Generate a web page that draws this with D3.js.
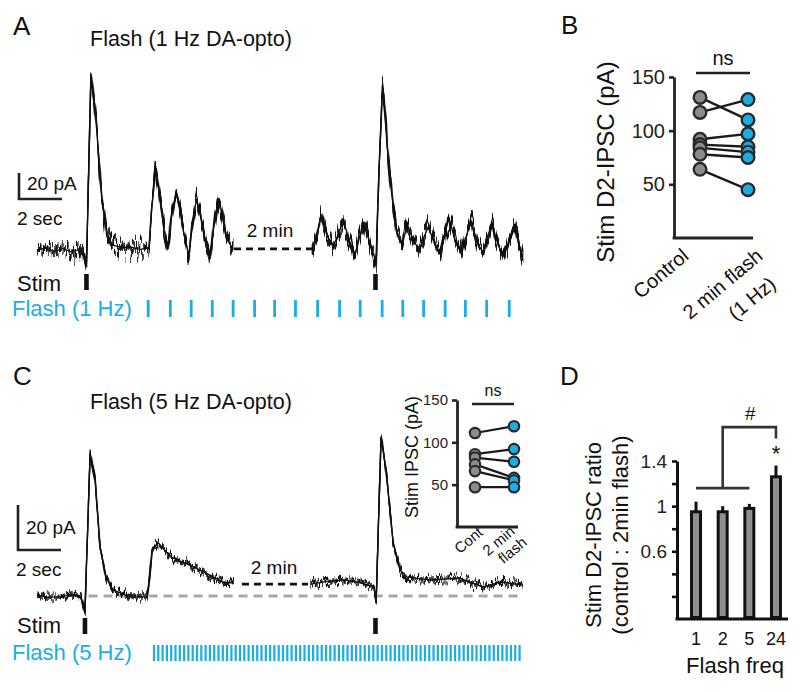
<!DOCTYPE html>
<html><head><meta charset="utf-8">
<script src="https://cdn.jsdelivr.net/npm/d3@7"></script>
<style>body{margin:0;background:#fff} svg text{font-family:"Liberation Sans",Arial,Helvetica,sans-serif}</style>
</head><body><svg id="fig" width="800" height="692"></svg>
<script>
// ---------------- DATA ----------------
// Panel A: trace segments [time s, current pA]
const traceA1 = [[0,0],[0.4,1.5],[0.8,-1],[1.2,1],[1.6,-1.5],[2.0,0.5],[2.14,-2.3],[2.30,-13],[2.40,60],[2.51,135],[2.60,125],[2.79,90],[3.02,38],[3.26,13],[3.49,4],[3.9,2],[4.33,2.3],[4.8,0.5],[5.21,1.5],[5.35,35],[5.52,63],[5.62,52],[5.75,36],[5.91,15],[6.09,1.5],[6.25,25],[6.47,44],[6.6,35],[6.8,15],[7.07,-5],[7.2,20],[7.42,39],[7.55,30],[7.8,10],[8.05,-6],[8.2,15],[8.44,39],[8.58,30],[8.8,10],[9.12,0]];
const traceA2 = [[12.79,0],[13.0,12],[13.21,26],[13.35,18],[13.49,11.5],[13.77,2.3],[14.0,12],[14.23,22],[14.37,16],[14.51,7.7],[14.79,-4],[15.0,10],[15.21,21.5],[15.35,14],[15.49,4],[15.67,-4],[15.77,-10],[15.9,60],[16.05,121],[16.14,115],[16.23,92],[16.42,54],[16.70,15],[16.98,4],[17.1,12],[17.21,20],[17.35,14],[17.49,7.7],[17.77,0],[18.0,10],[18.19,17.7],[18.33,12],[18.47,5.4],[18.74,-2.3],[18.95,12],[19.16,24.6],[19.3,16],[19.44,7.7],[19.72,-2.3],[19.95,10],[20.19,22.3],[20.33,14],[20.47,6],[20.74,-2.3],[20.95,10],[21.16,20.8],[21.3,12],[21.44,4],[21.72,-5.4],[21.95,8],[22.19,19.2],[22.3,12],[22.42,4],[22.6,-5.4]];
const gapA = [[9.16,0.8],[12.79,0.8]];
const stimA = [2.30, 15.74];
const flashA = [5.17,6.20,7.17,8.15,9.12,10.12,11.05,12.02,13.05,14.07,15.03,16.05,17.01,17.98,18.98,19.92,20.91,21.96];

// Panel C: trace segments [time s, current pA]
const traceC1 = [[0,0.4],[0.5,-0.5],[1.07,-0.4],[1.6,0.5],[2.05,-0.4],[2.23,-7.1],[2.47,63.6],[2.70,51.6],[2.93,21.8],[3.21,8.4],[3.53,2.7],[4.33,-0.4],[5.12,-0.4],[5.21,5.8],[5.35,20.4],[5.63,23.6],[6.23,17.3],[7.07,13.8],[7.86,10.2],[8.65,6.2],[9.16,5.8]];
const traceC2 = [[12.70,5.3],[13.5,6.5],[14.33,7.1],[15.0,6],[15.67,4],[15.77,-2.7],[16.0,70.7],[16.23,56],[16.56,23.6],[16.88,11.6],[17.21,8.4],[18.33,7.1],[19.63,8],[20.74,4],[21.53,6.2],[22.6,4.9]];
const gapC = [[9.53,5.3],[12.6,5.3]];
const stimC = [2.23, 15.74];
const flashC = {start: 5.44, end: 22.56, rateHz: 5};

// Panel B
const groupsB = ["Control", "2 min flash"];
const controlB = [131, 117, 92, 87, 84, 78, 64];
const flashB   = [110, 129, 97, 85, 80, 75, 45];
const ticksB = [50, 100, 150];

// Panel C inset
const controlI = [111, 86, 82, 74, 66, 47];
const flashI   = [119, 92, 77, 58, 55, 47];
const ticksI = [50, 100, 150];

// Panel D
const freqD = ["1", "2", "5", "24"];
const meanD = [0.95, 0.95, 0.98, 1.26];
const semD  = [0.09, 0.05, 0.04, 0.10];
const ticksD = [0.2, 0.4, 0.6, 0.8, 1.0, 1.2, 1.4];
const tickLabelsD = {"0.6":"0.6", "1":"1", "1.4":"1.4"};

// ---------------- DRAW ----------------
const BLUE = "#1aaee5", INK = "#111", DARK = "#222";
const svg = d3.select("#fig");
const defs = svg.append("defs");
// visual recording-noise texture for the traces (style only)
function noiseFilter(id, scale, fx, seed, dil){
  const f = defs.append("filter").attr("id", id).attr("x", -0.02).attr("y", -0.3).attr("width", 1.04).attr("height", 1.6)
    .attr("color-interpolation-filters", "sRGB");
  f.append("feTurbulence").attr("type", "fractalNoise").attr("baseFrequency", `${fx} 0.02`).attr("numOctaves", 2).attr("seed", seed).attr("result", "t");
  f.append("feColorMatrix").attr("in", "t").attr("type", "matrix")
    .attr("values", "0 0 0 0 0.5  0 1 0 0 0  0 0 0 0 0  0 0 0 0 1").attr("result", "m");
  f.append("feDisplacementMap").attr("in", "SourceGraphic").attr("in2", "m").attr("scale", scale)
    .attr("xChannelSelector", "R").attr("yChannelSelector", "G").attr("result", "d");
  f.append("feMorphology").attr("in", "d").attr("operator", "dilate").attr("radius", `0 ${dil}`);
}
const noiseA = [["nA1", 40, 0.4, 3, 2], ["nA2", 36, 0.55, 11, 2]];
const noiseC = [["nC1", 20, 0.4, 5, 1], ["nC2", 18, 0.55, 17, 1]];
noiseA.concat(noiseC).forEach(n => noiseFilter(...n));

function text(x, y, s, size, opt = {}) {
  const t = svg.append("text").attr("x", x).attr("y", y).text(s).attr("font-size", size)
    .attr("fill", opt.fill || INK).attr("text-anchor", opt.anchor || "start");
  if (opt.rotate !== undefined) t.attr("transform", `rotate(${opt.rotate},${x},${y})`);
  if (opt.dy) t.attr("dy", opt.dy);
  return t;
}

// shared time scale for traces
const xT = d3.scaleLinear().domain([0, 22.6]).range([37, 523]);

function tracePanel(cfg) {
  const y = cfg.y;
  const line = d3.line().x(d => xT(d[0])).y(d => y(d[1]));
  cfg.segments.forEach(seg => {
    svg.append("path").attr("d", line(seg)).attr("fill", "none").attr("stroke", INK)
      .attr("stroke-width", 1.4).attr("stroke-linejoin", "round");
    cfg.filters.forEach(f => {
      svg.append("path").attr("d", line(seg)).attr("fill", "none").attr("stroke", INK)
        .attr("stroke-width", 1.2).attr("stroke-linejoin", "round").attr("filter", `url(#${f[0]})`);
    });
  });
  svg.append("path").attr("d", line(cfg.gap)).attr("fill", "none").attr("stroke", INK)
    .attr("stroke-width", 2.8).attr("stroke-dasharray", "7,5");
  // stim marks
  svg.selectAll(null).data(cfg.stim).enter().append("rect")
    .attr("x", d => xT(d) - 2.3).attr("y", cfg.stimY).attr("width", 4.6).attr("height", 16).attr("fill", INK);
  // scale bar
  const sx = cfg.barX, sy = cfg.barY;
  const h = y(0) - y(20), w = xT(2) - xT(0);
  svg.append("path").attr("d", `M${sx},${sy - h}V${sy}H${sx + w}`).attr("fill", "none")
    .attr("stroke", "#222").attr("stroke-width", 2.6);
}

// ----- Panel A -----
const yA = d3.scaleLinear().domain([0, 20]).range([250, 224]);
tracePanel({y: yA, segments: [traceA1, traceA2], gap: gapA, stim: stimA, stimY: 274, filters: noiseA, barX: 19, barY: 199});
svg.selectAll(null).data(flashA).enter().append("rect")
  .attr("x", d => xT(d) - 1.4).attr("y", 300).attr("width", 2.8).attr("height", 17).attr("fill", BLUE);
text(13, 35, "A", 26);
text(90, 46, "Flash (1 Hz DA-opto)", 21.5);
text(27, 190, "20 pA", 19);
text(17, 225, "2 sec", 19);
text(270, 237, "2 min", 19, {anchor: "middle"});
text(17, 291, "Stim", 22);
text(12, 316, "Flash (1 Hz)", 22, {fill: BLUE});

// ----- Panel C -----
const yC = d3.scaleLinear().domain([0, 20]).range([596, 551]);
// baseline reference (gray dashed)
svg.append("line").attr("x1", xT(2.4)).attr("x2", xT(22.6)).attr("y1", yC(0)).attr("y2", yC(0))
  .attr("stroke", "#a8a8a8").attr("stroke-width", 3).attr("stroke-dasharray", "9,6");
tracePanel({y: yC, segments: [traceC1, traceC2], gap: gapC, stim: stimC, stimY: 618, filters: noiseC, barX: 18, barY: 550});
const flashTimesC = d3.range(flashC.start, flashC.end, 1 / flashC.rateHz);
svg.selectAll(null).data(flashTimesC).enter().append("rect")
  .attr("x", d => xT(d) - 1.1).attr("y", 645).attr("width", 2.2).attr("height", 16).attr("fill", BLUE);
text(13, 385, "C", 26);
text(90, 409, "Flash (5 Hz DA-opto)", 21.5);
text(26, 534, "20 pA", 19);
text(16, 576, "2 sec", 19);
text(274, 574, "2 min", 19, {anchor: "middle"});
text(17, 633, "Stim", 22);
text(12, 660, "Flash (5 Hz)", 22, {fill: BLUE});

// ----- paired dot plot helper -----
function pairedPlot(cfg) {
  const g = svg.append("g");
  const y = cfg.y, x = cfg.x;
  const axis = d3.axisLeft(y).tickValues(cfg.ticks).tickSize(5).tickSizeOuter(0).tickPadding(4);
  const ga = g.append("g").attr("transform", `translate(${cfg.axisX},0)`).call(axis);
  ga.select(".domain").attr("stroke", DARK).attr("stroke-width", 2.8);
  ga.selectAll(".tick line").attr("stroke", DARK).attr("stroke-width", 2.6);
  ga.selectAll(".tick text").attr("font-size", cfg.tickFont).attr("fill", "#222")
    .attr("font-family", '"Liberation Sans", Arial, sans-serif');
  g.append("line").attr("x1", cfg.axisX - 1.4).attr("x2", cfg.axisEnd).attr("y1", y(0)).attr("y2", y(0))
    .attr("stroke", DARK).attr("stroke-width", 2.8);
  const pairs = cfg.control.map((c, i) => [c, cfg.flash[i]]);
  g.selectAll(null).data(pairs).enter().append("line")
    .attr("x1", x(cfg.groups[0])).attr("x2", x(cfg.groups[1]))
    .attr("y1", d => y(d[0])).attr("y2", d => y(d[1]))
    .attr("stroke", "#1a1a1a").attr("stroke-width", cfg.lw);
  g.selectAll(null).data(cfg.control).enter().append("circle")
    .attr("cx", x(cfg.groups[0])).attr("cy", d => y(d)).attr("r", cfg.r)
    .attr("fill", "#8c8c8c").attr("stroke", "#2a2a2a").attr("stroke-width", cfg.lw);
  g.selectAll(null).data(cfg.flash).enter().append("circle")
    .attr("cx", x(cfg.groups[1])).attr("cy", d => y(d)).attr("r", cfg.r)
    .attr("fill", BLUE).attr("stroke", "#2a2a2a").attr("stroke-width", cfg.lw);
  // significance bar
  g.append("line").attr("x1", cfg.nsX[0]).attr("x2", cfg.nsX[1]).attr("y1", cfg.nsY).attr("y2", cfg.nsY)
    .attr("stroke", DARK).attr("stroke-width", 2.6);
  text((cfg.nsX[0] + cfg.nsX[1]) / 2, cfg.nsY - 8, "ns", cfg.nsFont, {anchor: "middle"});
}

// ----- Panel B -----
const yB = d3.scaleLinear().domain([0, 150]).range([238, 77]);
const xB = d3.scalePoint().domain(groupsB).range([700, 748]);
pairedPlot({y: yB, x: xB, groups: groupsB, control: controlB, flash: flashB, ticks: ticksB,
  axisX: 674, axisEnd: 753, tickFont: 20, r: 6.3, lw: 2.4, nsX: [696, 750], nsY: 73, nsFont: 20});
text(561, 34, "B", 26);
text(606, 162, "Stim D2-IPSC (pA)", 24, {anchor: "middle", rotate: -90, dy: "0.35em"});
text(690, 258, "Control", 20, {anchor: "end", rotate: -40});
const gB = svg.append("g").attr("transform", "translate(764,258) rotate(-40)");
gB.append("text").attr("text-anchor", "end").attr("font-size", 20).attr("fill", INK).text("2 min flash");
gB.append("text").attr("x", -8).attr("y", 30).attr("text-anchor", "end").attr("font-size", 20).attr("fill", INK).text("(1 Hz)");

// ----- Panel C inset -----
const yI = d3.scaleLinear().domain([0, 150]).range([527, 400]);
const xI = d3.scalePoint().domain(groupsB).range([475, 514]);
pairedPlot({y: yI, x: xI, groups: groupsB, control: controlI, flash: flashI, ticks: ticksI,
  axisX: 457, axisEnd: 518, tickFont: 15, r: 5.2, lw: 2.2, nsX: [472, 514], nsY: 404, nsFont: 16});
text(412, 457, "Stim IPSC (pA)", 18, {anchor: "middle", rotate: -90, dy: "0.35em"});
text(484, 534, "Cont", 15, {anchor: "end", rotate: -40});
const gI = svg.append("g").attr("transform", "translate(516,533) rotate(-40)");
gI.append("text").attr("text-anchor", "end").attr("font-size", 15).attr("fill", INK).text("2 min");
gI.append("text").attr("x", 2).attr("y", 16).attr("text-anchor", "end").attr("font-size", 15).attr("fill", INK).text("flash");

// ----- Panel D -----
const yD = d3.scaleLinear().domain([0, 1.4]).range([619, 461]);
const xD = d3.scaleBand().domain(freqD).range([682.7, 789.3]).paddingInner(0.55).paddingOuter(0.275);
const gD = svg.append("g");
const axD = d3.axisLeft(yD).tickValues(ticksD).tickSize(5).tickSizeOuter(0).tickPadding(5)
  .tickFormat(d => tickLabelsD[String(+d.toFixed(1))] || "");
const gad = gD.append("g").attr("transform", "translate(677,0)").call(axD);
gad.select(".domain").attr("stroke", INK).attr("stroke-width", 3);
gad.selectAll(".tick line").attr("stroke", INK).attr("stroke-width", 2.6);
gad.selectAll(".tick text").attr("font-size", 19).attr("fill", "#222").attr("font-family", '"Liberation Sans", Arial, sans-serif');
gD.append("line").attr("x1", 675.5).attr("x2", 788).attr("y1", yD(0)).attr("y2", yD(0)).attr("stroke", INK).attr("stroke-width", 3);
// error bars (upward)
gD.selectAll(null).data(freqD).enter().append("line")
  .attr("x1", d => xD(d) + xD.bandwidth() / 2).attr("x2", d => xD(d) + xD.bandwidth() / 2)
  .attr("y1", (d, i) => yD(meanD[i])).attr("y2", (d, i) => yD(meanD[i] + semD[i]))
  .attr("stroke", INK).attr("stroke-width", 3);
gD.selectAll(null).data(freqD).enter().append("rect")
  .attr("x", d => xD(d) + 1.5).attr("width", xD.bandwidth() - 3)
  .attr("y", (d, i) => yD(meanD[i])).attr("height", (d, i) => yD(0) - yD(meanD[i]) - 1.5)
  .attr("fill", "#8f8f8f").attr("stroke", INK).attr("stroke-width", 3);
freqD.forEach(f => text(xD(f) + xD.bandwidth() / 2, 645, f, 18, {anchor: "middle"}));
// comparison brackets
const cx = f => xD(f) + xD.bandwidth() / 2;
gD.append("path").attr("d", `M${cx("1")},${yD(1.16)}H${cx("5")}`).attr("stroke", "#333").attr("stroke-width", 2.6).attr("fill", "none");
gD.append("path").attr("d", `M${cx("2")},${yD(1.16)}V${yD(1.70)}H${cx("24")}V${yD(1.60)}`).attr("stroke", "#333").attr("stroke-width", 2.6).attr("fill", "none");
text((cx("2") + cx("24")) / 2 + 1, yD(1.76), "#", 19, {anchor: "middle"});
text(cx("24"), yD(1.40), "*", 22, {anchor: "middle"});
text(560, 385, "D", 26);
text(593, 535, "Stim D2-IPSC ratio", 22, {anchor: "middle", rotate: -90, dy: "0.35em"});
text(620, 535, "(control : 2min flash)", 22, {anchor: "middle", rotate: -90, dy: "0.35em"});
text(735, 673, "Flash freq", 22, {anchor: "middle"});
</script></body></html>
